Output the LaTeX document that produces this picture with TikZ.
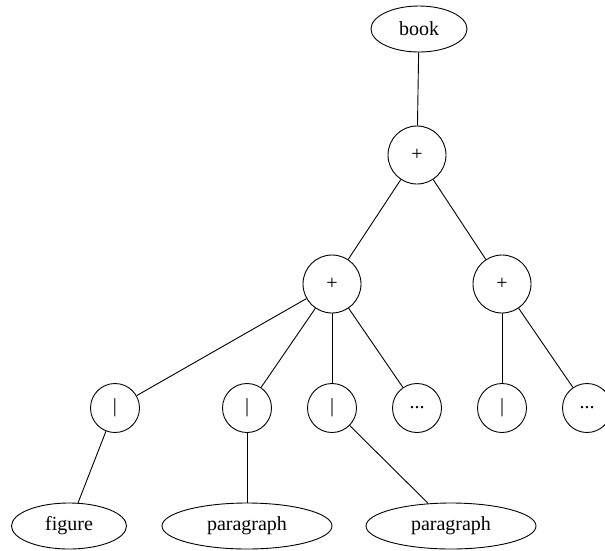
\documentclass[tikz,border=0pt]{standalone}
\usepackage{fontspec}
\setmainfont{Liberation Serif}
\usetikzlibrary{shapes.geometric}
\tikzstyle{tree} = [x = 1pt, y = -1pt, every node/.style={font=\treeFont}]
\tikzstyle{treeLine} = [color=black, line width=.9pt]
\tikzstyle{seqNode} = [draw, circle, line width=.9pt, minimum size=58pt, inner sep=0pt]
\tikzstyle{altNode} = [draw, circle, line width=.9pt, minimum size=49pt, inner sep=0pt]
\tikzstyle{elemNode} = [draw, ellipse, line width=.9pt, minimum height=46pt, inner sep=0pt]
\newcommand{\treeFont}{\fontsize{20}{24}\selectfont}

\begin{document}
\begin{tikzpicture}[tree]
\useasboundingbox (0,0) rectangle (605,550);
% elements
\node [elemNode, minimum width=96pt] (book) at (419,29) {book};
\node [elemNode, minimum width=115pt] (figure) at (69,526) {figure};
\node [elemNode, minimum width=170pt] (paraA) at (247,526) {paragraph};
\node [elemNode, minimum width=170pt] (paraB) at (451,526) {paragraph};
% sequences
\node [seqNode] (seqTop) at (417,155) {+};
\node [seqNode] (seqLeft) at (332,284) {+};
\node [seqNode] (seqRight) at (502,284) {+};
% choices
\node [altNode] (altA) at (115,408) {|};
\node [altNode] (altB) at (247,408) {|};
\node [altNode] (altC) at (332,408) {|};
\node [altNode] (moreA) at (417,408) {...};
\node [altNode] (altD) at (502,408) {|};
\node [altNode] (moreB) at (587,408) {...};
% edges
\draw [treeLine] (book) -- (seqTop);
\draw [treeLine] (seqTop) -- (seqLeft);
\draw [treeLine] (seqTop) -- (seqRight);
\foreach \child in {altA, altB, altC, moreA} {
  \draw [treeLine] (seqLeft) -- (\child);
}
\draw [treeLine] (seqRight) -- (altD);
\draw [treeLine] (seqRight) -- (moreB);
\draw [treeLine] (altA) -- (figure);
\draw [treeLine] (altB) -- (paraA);
\draw [treeLine] (altC) -- (paraB);
\end{tikzpicture}
\end{document}
